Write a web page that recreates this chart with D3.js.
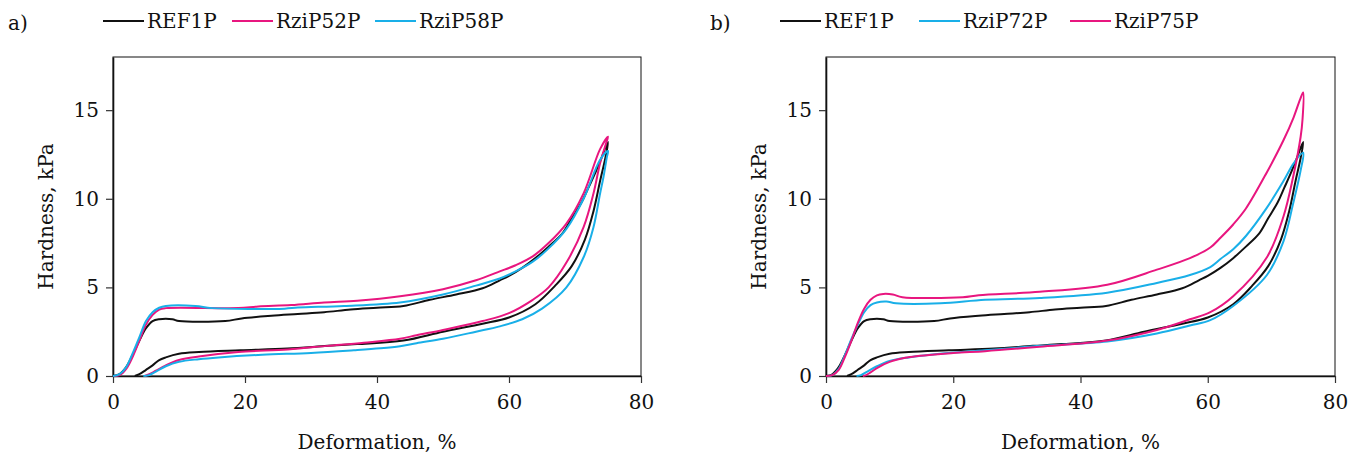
<!DOCTYPE html>
<html>
<head>
<meta charset="utf-8">
<script src="https://cdn.jsdelivr.net/npm/d3@7"></script>
<style>
  html, body { margin: 0; padding: 0; background: #fff; }
  svg { display: block; }
  svg text { font-family: "DejaVu Serif", serif !important; fill: #111; }
</style>
</head>
<body>
<svg id="chart" width="1359" height="454"></svg>
<script>
// ---------------- DATA ----------------
const xTicks = [0, 20, 40, 60, 80];
const yTicks = [0, 5, 10, 15];
const xLabel = "Deformation, %";
const yLabel = "Hardness, kPa";

// [deformation %, hardness kPa] – loading branch (0 -> 75 %)
const ref1pLoad = [[0,0],[1,0.1],[2,0.5],[3,1.2],[4,2.0],[5,2.7],[6,3.1],[7,3.2],[9,3.2],[10,3.1],[17,3.1],[19.5,3.25],[24,3.4],[28,3.5],[32,3.6],[36,3.75],[40,3.85],[44,3.95],[48,4.3],[52,4.6],[56,4.95],[58.6,5.4],[60,5.65],[62,6.1],[64,6.65],[66,7.3],[68,8.0],[69.5,8.9],[71,9.8],[72,10.6],[73,11.4],[74,12.3],[75,13.2]];
// unloading branch (75 % -> back)
const ref1pUnload = [[75,13.2],[74.6,12.3],[73.8,11.0],[72.8,9.3],[71.5,7.7],[69.5,6.2],[67,5.1],[64,4.05],[60,3.3],[56,2.95],[50,2.5],[44,2.0],[37,1.8],[32.5,1.7],[26.4,1.55],[19.3,1.45],[13,1.35],[10,1.25],[8,1.05],[7,0.9],[6,0.6],[5,0.35],[4,0.1],[3.3,0]];

const rzip52pLoad = [[0,0],[1,0.05],[2,0.4],[3,1.1],[4,2.0],[5,2.9],[6,3.45],[7,3.75],[8,3.83],[19,3.83],[22,3.92],[27,4.0],[32,4.15],[37,4.25],[43.5,4.5],[50,4.9],[55,5.4],[58.6,5.9],[61,6.25],[63.6,6.75],[66,7.5],[68.7,8.6],[71.3,10.3],[73.8,12.8],[75,13.5]];
const rzip52pUnload = [[75,13.5],[74.6,13.0],[73.8,12.0],[72.8,10.3],[71.3,8.4],[68.7,6.4],[66,5.0],[63.6,4.3],[60,3.55],[56,3.1],[50,2.6],[46,2.3],[43.5,2.1],[38,1.88],[32.5,1.7],[26.5,1.5],[19,1.35],[13,1.1],[10,0.9],[8,0.6],[6.5,0.3],[5.5,0.1],[4.8,0]];

const rzip58pLoad = [[0,0],[1,0.1],[2,0.5],[3,1.3],[4,2.2],[5,3.1],[6,3.6],[7,3.85],[8,3.95],[12.5,3.95],[15,3.83],[26,3.8],[28,3.86],[35,3.95],[43.5,4.15],[50,4.6],[55,5.1],[58.6,5.5],[61,5.9],[63.6,6.45],[66,7.2],[68.7,8.3],[71.3,10.0],[73.8,12.2],[75,12.7]];
const rzip58pUnload = [[75,12.7],[74.8,12.3],[74.3,11.2],[73.8,10.3],[72.8,8.4],[71.3,6.7],[68.7,5.0],[65,3.8],[62,3.2],[58.6,2.8],[55,2.5],[50,2.1],[46,1.85],[43.5,1.68],[40.5,1.56],[36.5,1.45],[30,1.3],[22.6,1.2],[16,1.05],[13,0.95],[10,0.8],[8,0.55],[6.5,0.25],[5.5,0.05],[4.6,0]];

const rzip72pLoad = [[0,0],[1,0.05],[2,0.4],[3,1.2],[4,2.1],[5,2.9],[6,3.6],[7,4.0],[8,4.15],[9.5,4.2],[11,4.1],[18,4.1],[25,4.3],[33.6,4.4],[44.2,4.7],[52,5.25],[57.2,5.7],[60.4,6.15],[62,6.6],[64,7.15],[66,7.9],[69.3,9.5],[71.9,11.0],[73.5,12.0],[75,12.6]];
const rzip72pUnload = [[75,12.6],[74.6,11.6],[73.4,9.7],[71.9,7.6],[69.3,5.7],[64,3.95],[60.4,3.15],[57.2,2.85],[52,2.4],[44.2,1.95],[33.6,1.7],[25,1.45],[17.9,1.25],[13,1.05],[10,0.85],[8,0.55],[6.5,0.25],[5.5,0.05],[4.8,0]];

const rzip75pLoad = [[0,0],[1,0.05],[2,0.35],[3,1.1],[4,2.0],[5,3.0],[6,3.8],[7,4.3],[8,4.55],[9,4.63],[10.5,4.6],[12,4.45],[21.5,4.45],[24,4.56],[33.6,4.75],[44.2,5.15],[52,6.0],[57.2,6.65],[60.4,7.25],[62,7.8],[64,8.55],[66,9.45],[69.3,11.5],[71.9,13.3],[73.5,14.6],[74.5,15.6],[75,16.0]];
const rzip75pUnload = [[75,16.0],[74.9,14.5],[74.6,13.5],[73.4,11.2],[71.9,9.0],[69.3,6.7],[64,4.5],[60.4,3.6],[57.2,3.2],[52,2.6],[44.2,2.0],[33.6,1.65],[25,1.4],[20,1.3],[13.2,1.07],[10,0.8],[8,0.45],[7,0.2],[6.3,0.05],[5.8,0]];

const seriesNamesA = ["REF1P", "RziP52P", "RziP58P"];
const seriesNamesB = ["REF1P", "RziP72P", "RziP75P"];
const colorBlack = "#111111", colorPink = "#e8167f", colorBlue = "#19afe8";

const panels = [
  { tag: "a)", series: [
      { name: seriesNamesA[0], color: colorBlack, load: ref1pLoad, unload: ref1pUnload },
      { name: seriesNamesA[1], color: colorPink,  load: rzip52pLoad, unload: rzip52pUnload },
      { name: seriesNamesA[2], color: colorBlue,  load: rzip58pLoad, unload: rzip58pUnload } ],
    left: 113, right: 641, top: 57, bottom: 376, tagX: 8, legendX: [103, 232, 375] },
  { tag: "b)", series: [
      { name: seriesNamesB[0], color: colorBlack, load: ref1pLoad, unload: ref1pUnload },
      { name: seriesNamesB[1], color: colorBlue,  load: rzip72pLoad, unload: rzip72pUnload },
      { name: seriesNamesB[2], color: colorPink,  load: rzip75pLoad, unload: rzip75pUnload } ],
    left: 826, right: 1335, top: 57, bottom: 376, tagX: 710, legendX: [780, 919, 1070] }
];

// ---------------- DRAW ----------------
const svg = d3.select("#chart");
const FS = 20;

panels.forEach(p => {
  const x = d3.scaleLinear().domain([0, 80]).range([p.left, p.right]);
  const y = d3.scaleLinear().domain([0, 18]).range([p.bottom, p.top]);
  const g = svg.append("g");

  g.append("rect").attr("x", p.left).attr("y", p.top)
    .attr("width", p.right - p.left).attr("height", p.bottom - p.top)
    .attr("fill", "none").attr("stroke", "#111").attr("stroke-width", 1);

  const ax = g.append("g").attr("transform", `translate(0,${p.bottom})`)
    .call(d3.axisBottom(x).tickValues(xTicks).tickSize(7).tickPadding(12).tickSizeOuter(0));
  const ay = g.append("g").attr("transform", `translate(${p.left},0)`)
    .call(d3.axisLeft(y).tickValues(yTicks).tickSize(7).tickPadding(7).tickSizeOuter(0));
  [ax, ay].forEach(a => {
    a.attr("font-family", null);
    a.select(".domain").attr("stroke", "#111").attr("stroke-width", 1.6);
    a.selectAll(".tick line").attr("stroke", "#333").attr("stroke-width", 1.2);
    a.selectAll(".tick text").attr("font-size", FS).attr("fill", "#111");
  });

  const line = d3.line().x(d => x(d[0])).y(d => y(d[1])).curve(d3.curveCatmullRom.alpha(0.5));
  p.series.forEach(s => {
    g.append("path").datum(s.load.concat(s.unload.slice(1)))
      .attr("d", line).attr("fill", "none")
      .attr("stroke", s.color).attr("stroke-width", 2).attr("stroke-linejoin", "round");
  });

  g.append("text").attr("x", (p.left + p.right) / 2).attr("y", 449)
    .attr("text-anchor", "middle").attr("font-size", FS).text(xLabel);
  g.append("text")
    .attr("transform", `translate(${p.left - 60},${(p.top + p.bottom) / 2}) rotate(-90)`)
    .attr("text-anchor", "middle").attr("font-size", FS).text(yLabel);

  g.append("text").attr("x", p.tagX).attr("y", 30).attr("font-size", FS).text(p.tag);

  p.series.forEach((s, i) => {
    const lx = p.legendX[i];
    g.append("line").attr("x1", lx).attr("x2", lx + 41).attr("y1", 21).attr("y2", 21)
      .attr("stroke", s.color).attr("stroke-width", 2.2);
    g.append("text").attr("x", lx + 44).attr("y", 28).attr("font-size", FS).text(s.name);
  });
});
</script>
</body>
</html>
